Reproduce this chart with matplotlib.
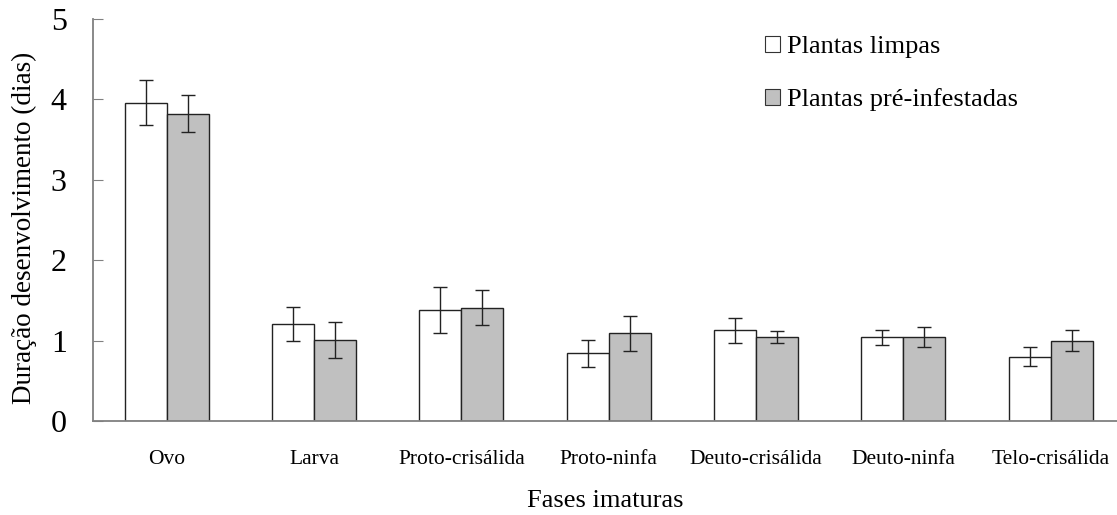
import matplotlib
matplotlib.use("Agg")
import matplotlib.pyplot as plt
import numpy as np
from matplotlib.patches import Patch

categories = ["Ovo", "Larva", "Proto-crisálida", "Proto-ninfa",
              "Deuto-crisálida", "Deuto-ninfa", "Telo-crisálida"]
limpas = [3.96, 1.21, 1.38, 0.84, 1.13, 1.04, 0.80]
limpas_err = [0.28, 0.21, 0.29, 0.17, 0.155, 0.095, 0.115]
infestadas = [3.82, 1.01, 1.41, 1.09, 1.045, 1.05, 1.00]
infestadas_err = [0.23, 0.22, 0.22, 0.22, 0.08, 0.125, 0.135]
series_names = ["Plantas limpas", "Plantas pré-infestadas"]
yticks = [0, 1, 2, 3, 4, 5]

plt.rcParams['font.family'] = ['Liberation Serif', 'DejaVu Serif']

fig = plt.figure(figsize=(11.17, 5.15), dpi=100)
ax = fig.add_axes([0.0833, 0.1825, 0.9167, 0.7805])

x = np.arange(len(categories))
w = 0.285
ax.bar(x - w/2, limpas, w, color='white', edgecolor='#222222', linewidth=1.0)
ax.bar(x + w/2, infestadas, w, color='#c0c0c0', edgecolor='#222222', linewidth=1.0)
ax.errorbar(x - w/2, limpas, yerr=limpas_err, fmt='none', ecolor='#222222',
            elinewidth=1.0, capsize=4.7, capthick=1.0)
ax.errorbar(x + w/2, infestadas, yerr=infestadas_err, fmt='none', ecolor='#222222',
            elinewidth=1.0, capsize=4.7, capthick=1.0)

ax.set_xlim(-0.5, 6.45)
ax.set_ylim(0, 5)
ax.set_yticks(yticks)
ax.set_yticklabels([str(t) for t in yticks], fontsize=23)
ax.set_xticks(x)
ax.set_xticklabels(categories, fontsize=15.5)
ax.tick_params(axis='y', direction='in', length=7, color='#808080', pad=19)
ax.tick_params(axis='x', length=0, pad=21)

for s in ['top', 'right']:
    ax.spines[s].set_visible(False)
for s in ['left', 'bottom']:
    ax.spines[s].set_color('#808080')
    ax.spines[s].set_linewidth(1.3)

ax.set_ylabel("Duração desenvolvimento (dias)", fontsize=19.5)
ax.yaxis.set_label_coords(-0.0547, 0.48)
ax.set_xlabel("Fases imaturas", fontsize=19, labelpad=15)

handles = [Patch(facecolor='white', edgecolor='#333333', linewidth=0.8),
           Patch(facecolor='#c0c0c0', edgecolor='#333333', linewidth=0.8)]
ax.legend(handles, series_names, loc='upper left', bbox_to_anchor=(0.646, 0.985),
          frameon=False, fontsize=19, handlelength=0.55, handleheight=0.55,
          handletextpad=0.27, labelspacing=1.15, borderaxespad=0)

fig.savefig("out.png", dpi=100)
